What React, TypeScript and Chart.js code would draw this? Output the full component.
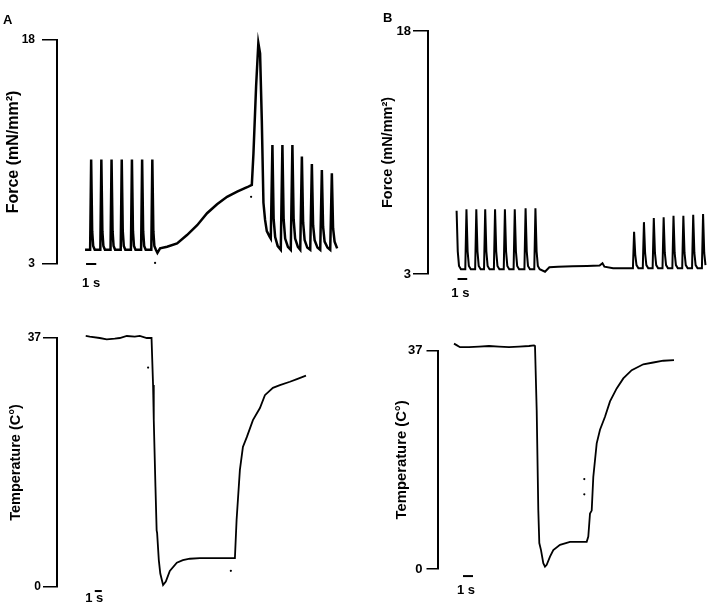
import React, { useEffect, useRef } from "react";
import { Chart, registerables } from "chart.js";

Chart.register(...registerables);

const FONT = "'Liberation Sans', Arial, Helvetica, sans-serif";

// ---------- Panel A: force (mN/mm²) vs time (s) ----------
const forceA_time = [
  0, 0.5, 0.6, 0.7, 0.8, 0.95,
  1.5, 1.6, 1.7, 1.8, 1.95,
  2.5, 2.6, 2.7, 2.8, 2.95,
  3.5, 3.6, 3.7, 3.8, 3.95,
  4.5, 4.6, 4.7, 4.8, 4.95,
  5.5, 5.6, 5.7, 5.8, 5.95,
  6.5, 6.6, 6.7, 6.8, 6.95,
  7.1, 7.36, 8.05, 9.03, 10.0, 11.0, 11.97, 12.95, 13.93, 14.92, 15.9, 16.36,
  16.52, 16.78, 17.0, 17.17, 17.34, 17.5, 17.66, 17.83, 18.09, 18.22,
  18.38, 18.5, 18.65, 18.9, 19.2,
  19.36, 19.48, 19.63, 19.9, 20.18,
  20.34, 20.46, 20.61, 20.88, 21.11,
  21.27, 21.39, 21.54, 21.8, 22.09,
  22.25, 22.37, 22.52, 22.8, 23.07,
  23.23, 23.35, 23.5, 23.78, 24.05,
  24.21, 24.33, 24.48, 24.73,
];
const forceA_value = [
  3.95, 3.95, 10.0, 5.2, 4.2, 3.95,
  3.95, 10.0, 5.2, 4.2, 3.95,
  3.95, 10.0, 5.2, 4.2, 3.95,
  3.95, 10.0, 5.2, 4.2, 3.95,
  3.95, 10.0, 5.2, 4.2, 3.95,
  3.95, 10.0, 5.2, 4.2, 3.95,
  3.95, 10.0, 5.2, 4.2, 3.95,
  3.75, 4.05, 4.16, 4.38, 4.94, 5.6, 6.4, 7.0, 7.5, 7.84, 8.14, 8.3,
  10.4, 14.9, 17.8, 17.1, 12.6, 7.1, 5.95, 5.2, 4.85, 4.7,
  10.97, 6.0, 4.8, 4.2, 3.95,
  10.97, 6.0, 4.7, 4.15, 3.95,
  10.97, 6.0, 4.7, 4.15, 3.95,
  10.19, 5.8, 4.6, 4.1, 3.95,
  9.7, 5.6, 4.6, 4.1, 3.95,
  9.3, 5.5, 4.5, 4.1, 3.95,
  9.07, 5.4, 4.5, 4.05,
];
const forceA_dotTime = [6.87, 16.29];
const forceA_dotValue = [3.07, 7.5];
const forceA_ticks = [3, 18];

// ---------- Panel A: temperature (°C) vs time (s) ----------
const tempA_time = [
  0, 0.57, 2.0, 3.0, 4.14, 4.86, 5.86, 7.0, 7.71, 8.71, 9.39,
  9.61, 9.71, 9.95, 10.12, 10.19, 10.43, 10.64, 11.04, 11.43, 12.0, 13.0, 13.86, 14.86, 16.29, 21.29,
  21.53, 22.0, 22.43, 23.0, 23.86, 24.86, 25.57, 26.71, 27.71, 29.14, 30.14, 31.43,
];
const tempA_value = [
  37.3, 37.2, 37.0, 36.8, 36.9, 37.0, 37.3, 37.2, 37.3, 37.0, 37.0,
  30.0, 24.8, 14.9, 8.4, 8.0, 4.0, 2.0, 0.3, 0.8, 2.4, 3.6, 4.0, 4.2, 4.3, 4.3,
  10.0, 17.4, 20.8, 22.3, 24.8, 26.6, 28.5, 29.6, 30.0, 30.5, 30.9, 31.4,
];
const tempA_dotTime = [8.9, 20.71];
const tempA_dotValue = [32.6, 2.4];
const tempA_ticks = [0, 37];

// ---------- Panel B: force (mN/mm²) vs time (s) ----------
const forceB_time = [
  0, 0.12, 0.25, 0.45, 0.9,
  1.02, 1.14, 1.27, 1.47, 1.92,
  2.04, 2.16, 2.29, 2.49, 2.84,
  2.96, 3.08, 3.21, 3.41, 3.86,
  3.98, 4.1, 4.23, 4.43, 4.88,
  5.0, 5.12, 5.25, 5.45, 5.9,
  6.02, 6.14, 6.27, 6.47, 7.02,
  7.14, 7.26, 7.39, 7.59, 8.04,
  8.16, 8.28, 8.41, 8.6,
  9.15, 9.6, 10.5, 12.0, 13.5, 14.8, 15.1, 15.3, 16.2, 17.0, 17.8, 18.25,
  18.37, 18.49, 18.62, 18.82, 19.27,
  19.39, 19.51, 19.64, 19.84, 20.29,
  20.41, 20.53, 20.66, 20.86, 21.31,
  21.43, 21.55, 21.68, 21.88, 22.33,
  22.45, 22.57, 22.7, 22.9, 23.35,
  23.47, 23.59, 23.72, 23.92, 24.37,
  24.49, 24.61, 24.74, 24.94, 25.39,
  25.51, 25.63, 25.76,
];
const forceB_value = [
  6.9, 4.4, 3.5, 3.3, 3.3,
  7.0, 4.4, 3.5, 3.3, 3.3,
  7.0, 4.4, 3.5, 3.3, 3.3,
  7.0, 4.4, 3.5, 3.3, 3.3,
  7.0, 4.4, 3.5, 3.3, 3.3,
  7.0, 4.4, 3.5, 3.3, 3.3,
  7.0, 4.4, 3.5, 3.3, 3.3,
  7.05, 4.4, 3.5, 3.3, 3.3,
  7.05, 4.4, 3.5, 3.3,
  3.14, 3.42, 3.45, 3.48, 3.5, 3.52, 3.66, 3.45, 3.35, 3.35, 3.35, 3.35,
  5.6, 4.2, 3.55, 3.35, 3.35,
  6.2, 4.3, 3.55, 3.35, 3.35,
  6.45, 4.3, 3.55, 3.35, 3.35,
  6.5, 4.3, 3.55, 3.35, 3.35,
  6.6, 4.3, 3.55, 3.35, 3.35,
  6.6, 4.3, 3.55, 3.35, 3.35,
  6.65, 4.3, 3.55, 3.35, 3.35,
  6.7, 4.3, 3.55,
];
const forceB_dotTime = [15.1];
const forceB_dotValue = [2.43];
const forceB_ticks = [3, 18];

// ---------- Panel B: temperature (°C) vs time (s) ----------
const tempB_time = [
  0, 0.3, 0.6, 1.5, 2.5, 3.5, 4.5, 5.5, 6.5, 7.5, 8.0, 8.1,
  8.27, 8.43, 8.53, 8.7, 8.93, 9.1, 9.27, 9.6, 9.93, 10.6, 11.6, 13.27,
  13.43, 13.6, 13.77, 13.93, 14.27, 14.6, 15.1, 15.6, 16.27, 16.93, 17.77, 18.93, 19.93, 20.93, 22.0,
];
const tempB_value = [
  38.2, 37.9, 37.6, 37.6, 37.7, 37.8, 37.7, 37.6, 37.7, 37.8, 37.9, 37.8,
  26.9, 10.0, 4.4, 3.2, 1.0, 0.4, 0.7, 2.1, 3.2, 4.1, 4.6, 4.6,
  5.5, 9.4, 9.9, 15.6, 21.3, 23.6, 25.8, 28.4, 30.6, 32.3, 33.7, 34.7, 35.0, 35.3, 35.4,
];
const tempB_dotTime = [7.6, 13.03, 13.03];
const tempB_dotValue = [42.0, 15.25, 12.65];
const tempB_ticks = [0, 37];

type Bar = { t0: number; t1: number; y: number; dx: number; dy: number };
type PanelCfg = {
  left: number; top: number; w: number; h: number;
  pad: { left: number; top: number; right: number; bottom: number };
  yWidth: number;
  ticks: number[];
  xMin: number; xMax: number;
  tickSize: number; tickLength: number; tickPadding: number;
  title: string; titleSize: number; titlePad: number;
  lineWidth: number;
  time: number[]; value: number[];
  dotTime: number[]; dotValue: number[];
  bar: Bar;
};

const panels: PanelCfg[] = [
  {
    left: 0, top: 0, w: 355, h: 300,
    pad: { left: 0, top: 40, right: 10, bottom: 36 }, yWidth: 57,
    ticks: forceA_ticks, xMin: -2.75, xMax: 25.5,
    tickSize: 12, tickLength: 15, tickPadding: 7,
    title: "Force (mN/mm²)", titleSize: 16, titlePad: 4.4, lineWidth: 2.5,
    time: forceA_time, value: forceA_value, dotTime: forceA_dotTime, dotValue: forceA_dotValue,
    bar: { t0: 0.1, t1: 1.1, y: 3.0, dx: 0, dy: 23 },
  },
  {
    left: 0, top: 300, w: 355, h: 304,
    pad: { left: 0, top: 38, right: 10, bottom: 17 }, yWidth: 57,
    ticks: tempA_ticks, xMin: -4.1, xMax: 37,
    tickSize: 12, tickLength: 14, tickPadding: 2,
    title: "Temperature (C°)", titleSize: 14.5, titlePad: 7.3, lineWidth: 1.8,
    time: tempA_time, value: tempA_value, dotTime: tempA_dotTime, dotValue: tempA_dotValue,
    bar: { t0: 1.29, t1: 2.29, y: -0.6, dx: -4, dy: 11 },
  },
  {
    left: 355, top: 0, w: 354, h: 300,
    pad: { left: 0, top: 31, right: 0, bottom: 26 }, yWidth: 73,
    ticks: forceB_ticks, xMin: -2.96, xMax: 25.71,
    tickSize: 13, tickLength: 15, tickPadding: 2,
    title: "Force (mN/mm²)", titleSize: 14.5, titlePad: 24.3, lineWidth: 2,
    time: forceB_time, value: forceB_value, dotTime: forceB_dotTime, dotValue: forceB_dotValue,
    bar: { t0: 0.1, t1: 1.1, y: 2.69, dx: -2, dy: 18 },
  },
  {
    left: 355, top: 300, w: 354, h: 304,
    pad: { left: 0, top: 50.7, right: 9, bottom: 35 }, yWidth: 83,
    ticks: tempB_ticks, xMin: -1.6, xMax: 24.6,
    tickSize: 13, tickLength: 11.5, tickPadding: 4,
    title: "Temperature (C°)", titleSize: 14.8, titlePad: 38.1, lineWidth: 1.8,
    time: tempB_time, value: tempB_value, dotTime: tempB_dotTime, dotValue: tempB_dotValue,
    bar: { t0: 0.9, t1: 1.9, y: -1.2, dx: -2, dy: 18 },
  },
];

function Panel({ cfg }: { cfg: PanelCfg }) {
  const ref = useRef<HTMLCanvasElement>(null);
  useEffect(() => {
    const canvas = ref.current;
    if (!canvas) return;
    const yMin = cfg.ticks[0];
    const yMax = cfg.ticks[cfg.ticks.length - 1];
    const bar = cfg.bar;
    const labelPlugin = {
      id: "scaleLabel",
      afterDatasetsDraw(chart: any) {
        const { ctx } = chart;
        const xs = chart.scales.x;
        const ys = chart.scales.y;
        const cx = (xs.getPixelForValue(bar.t0) + xs.getPixelForValue(bar.t1)) / 2 + bar.dx;
        const cy = ys.getPixelForValue(bar.y) + bar.dy;
        ctx.save();
        ctx.font = `bold 13px ${FONT}`;
        ctx.fillStyle = "#000";
        ctx.textAlign = "center";
        ctx.textBaseline = "alphabetic";
        ctx.fillText("1 s", cx, cy);
        ctx.restore();
      },
    };
    const chart = new Chart(canvas, {
      type: "line",
      data: {
        datasets: [
          {
            data: cfg.time.map((t, i) => ({ x: t, y: cfg.value[i] })),
            borderColor: "#000",
            borderWidth: cfg.lineWidth,
            pointRadius: 0,
            tension: 0,
            fill: false,
            clip: false,
          } as any,
          {
            type: "scatter",
            data: cfg.dotTime.map((t, i) => ({ x: t, y: cfg.dotValue[i] })),
            showLine: false,
            pointRadius: 1.1,
            pointBorderWidth: 0,
            backgroundColor: "#000",
            borderColor: "#000",
            clip: false,
          } as any,
          {
            data: [
              { x: bar.t0, y: bar.y },
              { x: bar.t1, y: bar.y },
            ],
            borderColor: "#000",
            borderWidth: 2,
            pointRadius: 0,
            clip: false,
          } as any,
        ],
      },
      options: {
        animation: false,
        responsive: false,
        maintainAspectRatio: false,
        events: [],
        layout: { padding: cfg.pad },
        plugins: { legend: { display: false }, tooltip: { enabled: false } },
        scales: {
          x: { type: "linear", display: false, min: cfg.xMin, max: cfg.xMax },
          y: {
            type: "linear",
            min: yMin,
            max: yMax,
            afterBuildTicks: (ax: any) => {
              ax.ticks = cfg.ticks.map((v) => ({ value: v }));
            },
            afterFit: (s: any) => {
              s.width = cfg.yWidth;
            },
            ticks: {
              color: "#000",
              padding: cfg.tickPadding,
              font: { family: FONT, size: cfg.tickSize, weight: "bold" },
              callback: (v: any) => String(v),
            },
            grid: {
              drawOnChartArea: false,
              drawTicks: true,
              tickLength: cfg.tickLength,
              color: "#000",
              lineWidth: 1.5,
            },
            border: { display: true, color: "#000", width: 2 },
            title: {
              display: true,
              text: cfg.title,
              color: "#000",
              font: { family: FONT, size: cfg.titleSize, weight: "bold" },
              padding: { top: cfg.titlePad, bottom: 0 },
            },
          },
        },
      } as any,
      plugins: [labelPlugin],
    });
    return () => chart.destroy();
  }, [cfg]);
  return (
    <canvas
      ref={ref}
      width={cfg.w}
      height={cfg.h}
      style={{ position: "absolute", left: cfg.left, top: cfg.top, width: cfg.w, height: cfg.h }}
    />
  );
}

const letterStyle: React.CSSProperties = {
  position: "absolute",
  fontFamily: FONT,
  fontWeight: "bold",
  fontSize: 13,
  lineHeight: "13px",
  color: "#000",
};

export default function App() {
  return (
    <div style={{ position: "absolute", left: 0, top: 0, width: 709, height: 604, background: "#fff", overflow: "hidden" }}>
      {panels.map((p, i) => (
        <Panel key={i} cfg={p} />
      ))}
      <div style={{ ...letterStyle, left: 3, top: 13.3 }}>A</div>
      <div style={{ ...letterStyle, left: 383, top: 11.3 }}>B</div>
    </div>
  );
}
